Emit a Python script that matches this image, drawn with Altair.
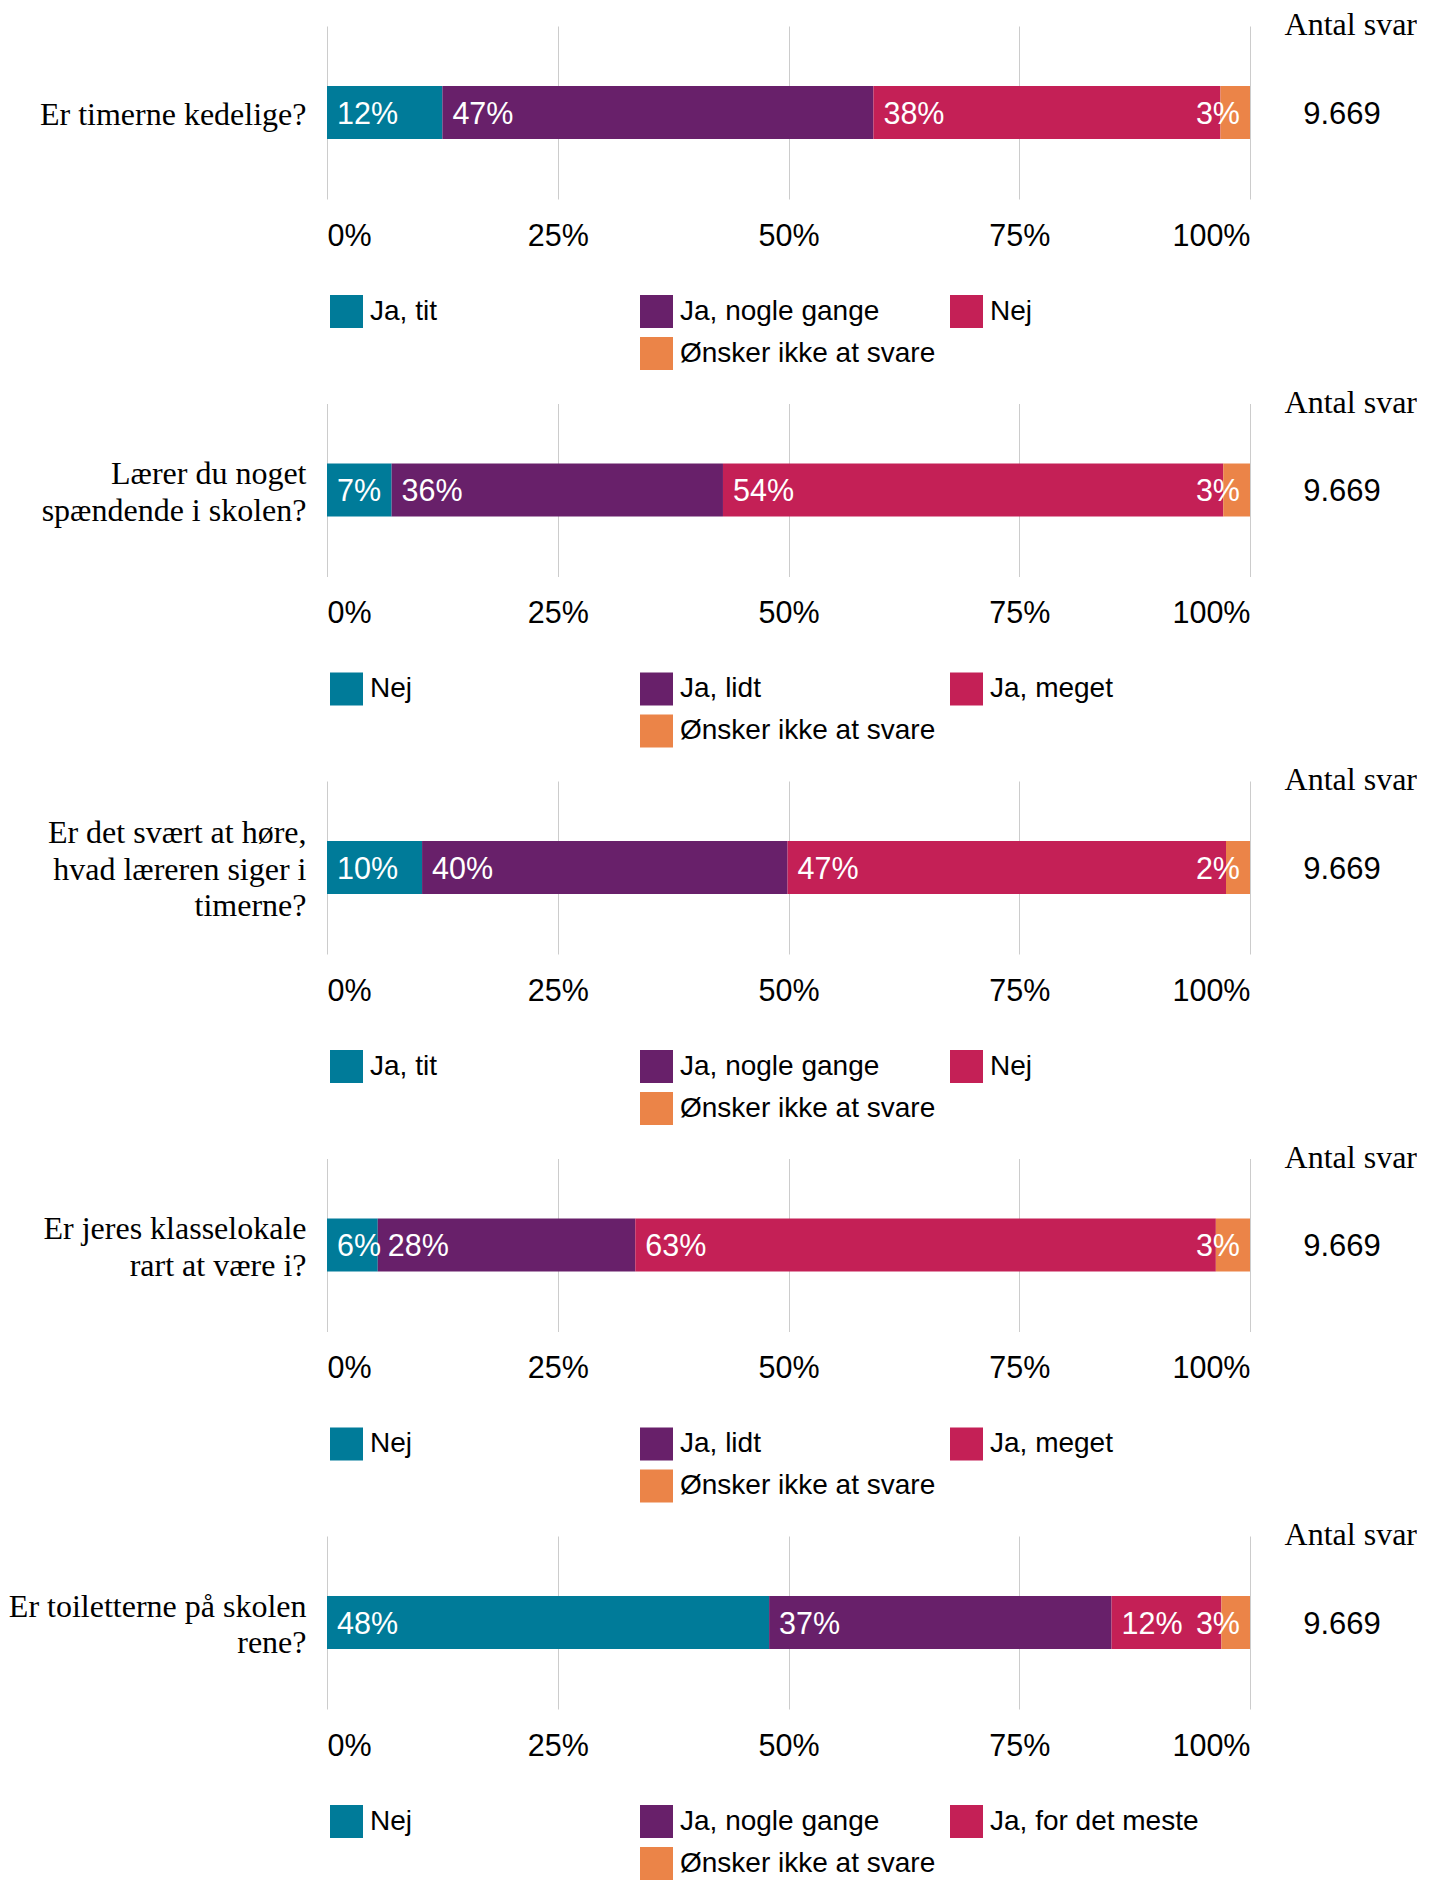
import altair as alt
import pandas as pd

SANS = "Liberation Sans"
SERIF = "Liberation Serif"

questions = [
    "Er timerne kedelige?",
    "Lærer du noget|spændende i skolen?",
    "Er det svært at høre,|hvad læreren siger i|timerne?",
    "Er jeres klasselokale|rart at være i?",
    "Er toiletterne på skolen|rene?",
]
answers = [
    ["Ja, tit", "Ja, nogle gange", "Nej", "Ønsker ikke at svare"],
    ["Nej", "Ja, lidt", "Ja, meget", "Ønsker ikke at svare"],
    ["Ja, tit", "Ja, nogle gange", "Nej", "Ønsker ikke at svare"],
    ["Nej", "Ja, lidt", "Ja, meget", "Ønsker ikke at svare"],
    ["Nej", "Ja, nogle gange", "Ja, for det meste", "Ønsker ikke at svare"],
]
shares = [
    [12.5, 46.7, 37.6, 3.2],
    [7.0, 35.9, 54.2, 2.9],
    [10.3, 39.6, 47.5, 2.6],
    [5.5, 27.9, 62.9, 3.7],
    [47.9, 37.1, 11.9, 3.1],
]
share_labels = [
    ["12%", "47%", "38%", "3%"],
    ["7%", "36%", "54%", "3%"],
    ["10%", "40%", "47%", "2%"],
    ["6%", "28%", "63%", "3%"],
    ["48%", "37%", "12%", "3%"],
]
counts = ["9.669", "9.669", "9.669", "9.669", "9.669"]
count_header = "Antal svar"
colors = ["#007B99", "#68206A", "#C42056", "#EB8448"]
x_ticks = [0, 25, 50, 75, 100]

W, H = 923, 173
LINE_H = 36.5


def panel(i):
    rows = []
    s = 0.0
    n = len(answers[i])
    for j, (a, v, lab) in enumerate(zip(answers[i], shares[i], share_labels[i])):
        rows.append({"q": questions[i], "answer": a, "start": s, "end": s + v,
                     "label": lab, "last": j == n - 1, "count": counts[i]})
        s += v
    df = pd.DataFrame(rows)
    # a blank legend entry keeps the 4th entry under the 2nd column
    dom = answers[i][:3] + [" "] + answers[i][3:]
    rng = colors[:3] + ["transparent"] + colors[3:]
    n_lines = questions[i].count("|") + 1

    y = alt.Y("q:N", title=None,
              scale=alt.Scale(paddingInner=0, paddingOuter=0),
              axis=alt.Axis(labelExpr="split(datum.label, '|')", domain=False, ticks=False,
                            labelFont=SERIF, labelFontSize=32, labelColor="black",
                            labelPadding=21, labelLineHeight=LINE_H, labelLimit=500,
                            labelOffset=2.4 - (n_lines - 1) * LINE_H / 2, grid=False))
    xscale = alt.Scale(domain=[0, 100], nice=False, zero=True)
    base = alt.Chart(df)
    bars = base.mark_bar(size=53).encode(
        x=alt.X("start:Q", title=None, scale=xscale,
                axis=alt.Axis(values=x_ticks, labelExpr="datum.value + '%'", grid=True,
                              gridColor="#cccccc", gridWidth=1, domain=False, ticks=False,
                              labelFont=SANS, labelFontSize=30.5, labelColor="black",
                              labelPadding=22, labelFlush=True)),
        x2="end:Q",
        y=y,
        color=alt.Color("answer:N", scale=alt.Scale(domain=dom, range=rng),
                        legend=alt.Legend(title=None, orient="bottom", columns=3,
                                          symbolType="square", symbolSize=1089,
                                          symbolStrokeWidth=0, symbolOpacity=1,
                                          labelFont=SANS, labelFontSize=28,
                                          labelColor="black", labelOffset=7,
                                          columnPadding=14, rowPadding=9, padding=3,
                                          gridAlign="all", labelLimit=600, offset=40)),
    )
    txt = dict(font=SANS, fontSize=30.5, color="white", baseline="middle")
    lab_inner = base.transform_filter("!datum.last").mark_text(align="left", dx=10, dy=2, **txt).encode(
        x=alt.X("start:Q", title=None), y=y, text="label:N")
    lab_last = base.transform_filter("datum.last").mark_text(align="right", dx=-10, dy=2, **txt).encode(
        x=alt.X("end:Q", title=None), y=y, text="label:N")
    cnt = base.transform_filter("datum.last").mark_text(
        align="center", baseline="middle", dy=2, font=SANS, fontSize=31, color="black").encode(
        x=alt.value(W + 92), y=y, text="count:N")
    return alt.layer(bars, lab_inner, lab_last, cnt).properties(
        width=W, height=H,
        title=alt.TitleParams(count_header, anchor="end", frame="group", font=SERIF,
                              fontSize=32, fontWeight="normal", color="black",
                              dx=167, offset=-16),
    )


chart = alt.vconcat(*[panel(i) for i in range(5)], spacing=13.5).resolve_scale(
    color="independent"
).properties(padding={"left": 0, "top": 1, "right": 0, "bottom": 0}).configure_view(stroke=None)

chart.save("out.html", embed_options={"renderer": "svg", "actions": False})
